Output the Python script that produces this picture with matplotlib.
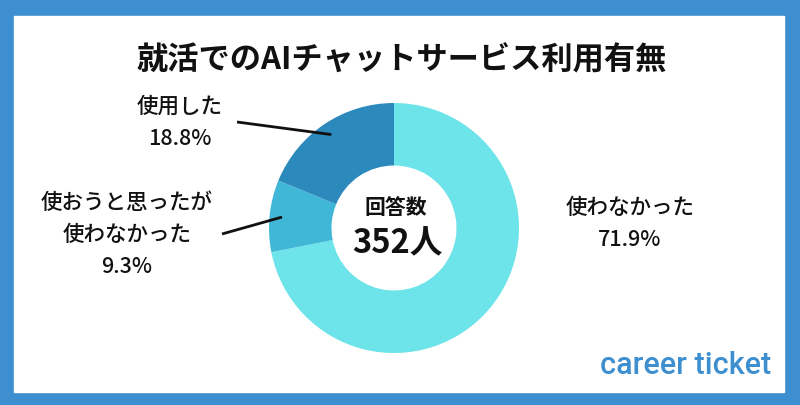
import matplotlib
matplotlib.use("Agg")
import matplotlib.pyplot as plt
import numpy as np
from matplotlib.patches import Rectangle

plt.rcParams["font.family"] = ["Noto Sans CJK JP", "DejaVu Sans"]

# data
title = "就活でのAIチャットサービス利用有無"
categories = ["使わなかった", "使おうと思ったが\n使わなかった", "使用した"]
shares = [71.9, 9.3, 18.8]
colors = ["#6ce4e9", "#41b7d8", "#2c89bb"]
total_label = "回答数"
total_n = "352人"

W, H = 800, 405
BLUE = "#3d8fcf"

fig = plt.figure(figsize=(W / 100, H / 100), dpi=100)
ax = fig.add_axes([0, 0, 1, 1])

# frame: blue border, white card
ax.add_patch(Rectangle((0, 0), W, H, color=BLUE, zorder=0))
ax.add_patch(Rectangle((14, 13), 770, 376, color="white", zorder=0.5))

cx, cy, R = 394, H - 228, 125
wedges, _ = ax.pie(shares, colors=colors, startangle=90, counterclock=False,
                   radius=R, center=(cx, cy),
                   wedgeprops=dict(width=R * 0.5, linewidth=0))

ax.text(402, H - 60, title, ha="center", va="center",
        fontsize=22.5, fontweight="bold", color="#111111")

# centre text
ax.text(cx + 2, H - 207, total_label, ha="center", va="center",
        fontsize=15, fontweight="bold", color="#111111")
ax.text(cx + 3, H - 244, total_n, ha="center", va="center",
        fontsize=23.5, fontweight="bold", color="#111111")

# labels (positions in pixels from top) and leader-line starts
label_pos = [(630, 224), (127, 235), (180, 123)]
leader_start = [None, (222, 234), (237, 122)]
for w, cat, pct, (lx, ly), st in zip(wedges, categories, shares,
                                     label_pos, leader_start):
    ax.text(lx, H - ly, f"{cat}\n{pct:.1f}%", ha="center", va="center",
            fontsize=15.5, fontweight="medium", color="#111111",
            linespacing=1.6)
    if st is not None:
        ang = np.deg2rad((w.theta1 + w.theta2) / 2)
        ex = cx + 0.9 * R * np.cos(ang)
        ey = cy + 0.9 * R * np.sin(ang)
        ax.plot([st[0], ex], [H - st[1], ey], color="#111111", lw=2,
                solid_capstyle="butt", zorder=3)

# logo
ax.text(771, H - 366, "career ticket", ha="right", va="center",
        fontsize=22, fontweight="medium", family="Roboto", color=BLUE)

ax.set_xlim(0, W)
ax.set_ylim(0, H)
ax.set_aspect("auto")
ax.axis("off")

fig.savefig("out.png", dpi=100)
